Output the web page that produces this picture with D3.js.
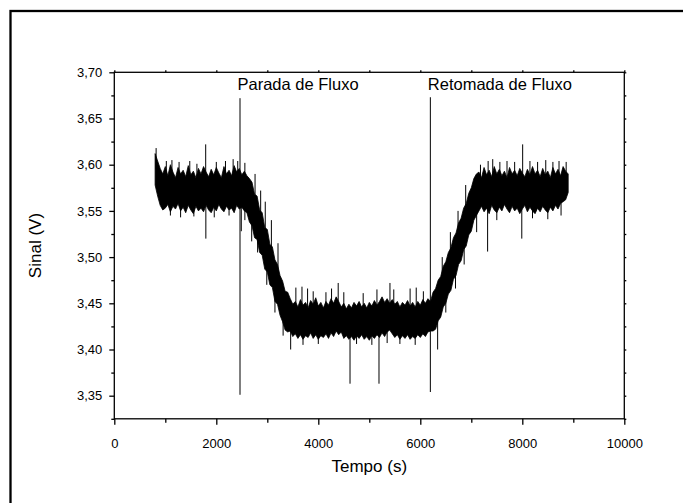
<!DOCTYPE html>
<html>
<head>
<meta charset="utf-8">
<script src="https://cdn.jsdelivr.net/npm/d3@7"></script>
<style>
html,body{margin:0;padding:0;background:#fff;}
svg{display:block;}
text{font-family:"Liberation Sans",Arial,Helvetica,sans-serif;fill:#000;}
</style>
</head>
<body>
<svg id="chart" width="683" height="503"></svg>
<script>
// ---- data ----
const xTicks = [0, 2000, 4000, 6000, 8000, 10000];
const xMinorTicks = [1000, 3000, 5000, 7000, 9000];
const yTicks = [3.35, 3.40, 3.45, 3.50, 3.55, 3.60, 3.65, 3.70];
const yMinorTicks = [3.325, 3.375, 3.425, 3.475, 3.525, 3.575, 3.625, 3.675];
const xLabel = "Tempo (s)";
const yLabel = "Sinal (V)";

// signal envelope sampled every 50 s starting at 800 s
const tStart = 800, tStep = 50;
const signalHigh = [
  // plateau 800-2600
  3.612,3.604,3.596,3.590,3.598,3.588,3.600,3.592,3.586,3.597,3.590,3.594,3.587,3.599,3.589,3.593,3.586,3.596,3.590,3.598,
  3.592,3.587,3.595,3.589,3.597,3.591,3.586,3.598,3.590,3.594,3.588,3.599,3.592,3.596,3.589,3.593,3.588,
  // ramp down 2650-3400
  3.585,3.581,3.568,3.566,3.551,3.548,3.532,3.530,3.514,3.511,3.497,3.492,3.480,3.474,3.463,3.462,
  // low plateau 3450-6200
  3.455,3.449,3.452,3.446,3.454,3.448,3.451,3.445,3.453,3.449,3.456,3.447,3.451,3.445,3.452,3.448,3.455,3.450,3.457,3.452,
  3.446,3.450,3.444,3.449,3.445,3.451,3.447,3.452,3.446,3.450,3.445,3.451,3.447,3.453,3.448,3.452,3.457,3.451,3.455,3.450,
  3.454,3.449,3.452,3.446,3.451,3.448,3.453,3.447,3.451,3.446,3.452,3.448,3.454,3.450,3.455,3.452,
  // ramp up 6250-7100
  3.462,3.466,3.475,3.479,3.490,3.495,3.505,3.510,3.521,3.526,3.537,3.542,3.553,3.558,3.569,3.575,3.585,3.590,
  // plateau 7150-8900
  3.592,3.586,3.597,3.589,3.594,3.587,3.598,3.590,3.595,3.588,3.593,3.586,3.597,3.590,3.594,3.588,3.596,3.591,3.587,3.595,
  3.589,3.598,3.590,3.594,3.587,3.596,3.589,3.593,3.586,3.597,3.590,3.595,3.588,3.598,3.593,3.590
];
const signalLow = [
  3.578,3.566,3.556,3.551,3.553,3.557,3.549,3.555,3.552,3.558,3.550,3.554,3.548,3.556,3.551,3.547,3.555,3.550,3.553,3.549,
  3.556,3.551,3.548,3.554,3.550,3.557,3.552,3.549,3.555,3.551,3.553,3.548,3.556,3.552,3.554,3.550,3.548,
  3.538,3.534,3.521,3.519,3.505,3.502,3.487,3.484,3.470,3.467,3.452,3.449,3.437,3.430,3.421,3.419,
  3.420,3.414,3.417,3.412,3.416,3.411,3.415,3.413,3.418,3.412,3.416,3.411,3.415,3.413,3.417,3.412,3.418,3.414,3.420,3.416,
  3.419,3.412,3.415,3.411,3.414,3.410,3.415,3.412,3.416,3.411,3.414,3.410,3.415,3.412,3.416,3.413,3.418,3.414,3.419,3.421,
  3.417,3.413,3.416,3.411,3.415,3.412,3.416,3.411,3.414,3.412,3.416,3.413,3.417,3.414,3.419,3.420,
  3.420,3.422,3.431,3.435,3.446,3.450,3.460,3.464,3.476,3.480,3.492,3.496,3.508,3.512,3.524,3.528,3.540,3.545,
  3.550,3.555,3.549,3.553,3.547,3.556,3.551,3.548,3.554,3.550,3.557,3.552,3.548,3.555,3.550,3.553,3.547,3.552,3.556,3.549,
  3.554,3.550,3.547,3.553,3.549,3.555,3.551,3.548,3.554,3.550,3.556,3.552,3.558,3.560,3.562,3.570
];
// isolated noise spikes [time, value]
const spikes = [
  [820,3.618],[1020,3.604],[1130,3.605],[1270,3.603],[1480,3.604],[1620,3.601],[1792,3.622],[2000,3.603],
  [2180,3.604],[2330,3.606],[2420,3.604],[2560,3.602],
  [1100,3.545],[1300,3.543],[1560,3.544],[1795,3.520],[1960,3.543],[2250,3.545],[2490,3.528],[2560,3.540],[2694,3.517],
  [2760,3.590],[2870,3.572],[2960,3.560],[3080,3.540],[3210,3.515],[2810,3.505],[2990,3.470],[3150,3.440],[3310,3.415],
  [3560,3.467],[3680,3.468],[3790,3.466],[3900,3.463],[4150,3.462],[4260,3.466],[4390,3.472],[4500,3.462],
  [4880,3.461],[5150,3.465],[5405,3.472],[5480,3.465],[5800,3.466],[5920,3.467],[6060,3.463],
  [3458,3.400],[3700,3.405],[4000,3.406],[4622,3.363],[4750,3.406],[5050,3.405],[5190,3.363],[5350,3.407],
  [5600,3.406],[5900,3.405],[6340,3.400],
  [6430,3.500],[6590,3.527],[6740,3.550],[6890,3.578],[6500,3.440],[6690,3.466],[6860,3.492],
  [7105,3.527],[7320,3.506],
  [7180,3.600],[7330,3.604],[7420,3.606],[7560,3.603],[7700,3.604],[7850,3.603],[8007,3.622],[8150,3.604],
  [8300,3.603],[8460,3.605],[8600,3.603],[8720,3.604],[8860,3.603],
  [7500,3.540],[7990,3.520],[8200,3.542],[8500,3.541],[8760,3.545]
];
// annotation markers: label, time, line top, line bottom
const markerLabels = ["Parada de Fluxo", "Retomada de Fluxo"];
const markerTimes = [2465, 6197];
const markerTops = [3.672, 3.673];
const markerBottoms = [3.351, 3.354];

// ---- drawing ----
const svg = d3.select("#chart");
const x = d3.scaleLinear().domain([0, 10000]).range([114.3, 624.3]);
const y = d3.scaleLinear().domain([3.325, 3.70]).range([418.8, 72.3]);
const loc = d3.formatLocale({decimal: ",", thousands: "", grouping: [3], currency: ["", ""]});
const fy = loc.format(".2f");

// outer frame (cut by the canvas at right/bottom)
svg.append("rect").attr("x", 10.5).attr("y", 11).attr("width", 700).attr("height", 520)
  .attr("fill", "none").attr("stroke", "#000").attr("stroke-width", 2.3);

// signal band
const band = signalHigh.map((h, i) => ({t: tStart + i * tStep, hi: h, lo: signalLow[i]}));
svg.append("path").datum(band)
  .attr("d", d3.area().x(d => x(d.t)).y0(d => y(d.lo)).y1(d => y(d.hi)))
  .attr("fill", "#000").attr("stroke", "#000").attr("stroke-width", 0.8);

svg.append("g").selectAll("line").data(spikes).join("line")
  .attr("x1", d => x(d[0])).attr("x2", d => x(d[0]))
  .attr("y1", d => {
    const i = Math.max(0, Math.min(band.length - 1, Math.round((d[0] - tStart) / tStep)));
    return y((band[i].hi + band[i].lo) / 2);
  })
  .attr("y2", d => y(d[1]))
  .attr("stroke", "#000").attr("stroke-width", 1);

// markers
const mk = svg.append("g");
markerTimes.forEach((t, i) => {
  mk.append("line").attr("x1", x(t)).attr("x2", x(t))
    .attr("y1", y(markerTops[i])).attr("y2", y(markerBottoms[i]))
    .attr("stroke", "#000").attr("stroke-width", 1);
  mk.append("text").attr("x", x(t) - 2.5).attr("y", 90)
    .attr("font-size", 16.5).text(markerLabels[i]);
});

// axes
const axW = 1.3;
function styleAxis(g) {
  g.select(".domain").remove();
  g.selectAll("line").attr("stroke", "#000").attr("stroke-width", axW);
}
const gx = svg.append("g").attr("transform", `translate(0,${y.range()[0]})`)
  .call(d3.axisBottom(x).tickValues(xTicks).tickSize(6).tickPadding(14).tickFormat(d3.format("d")));
gx.call(styleAxis); gx.selectAll("text").attr("font-size", 13);
svg.append("g").attr("transform", `translate(0,${y.range()[0]})`)
  .call(d3.axisBottom(x).tickValues(xMinorTicks).tickSize(4).tickFormat("")).call(styleAxis);
const gy = svg.append("g").attr("transform", `translate(${x.range()[0]},0)`)
  .call(d3.axisLeft(y).tickValues(yTicks).tickSize(5).tickPadding(7).tickFormat(fy));
gy.call(styleAxis); gy.selectAll("text").attr("font-size", 13);
svg.append("g").attr("transform", `translate(${x.range()[0]},0)`)
  .call(d3.axisLeft(y).tickValues(yMinorTicks).tickSize(3).tickFormat("")).call(styleAxis);
// top & right mirrored ticks
svg.append("g").attr("transform", `translate(0,${y.range()[1]})`)
  .call(d3.axisTop(x).tickValues(xTicks.concat(xMinorTicks)).tickSize(2).tickFormat("")).call(styleAxis);
svg.append("g").attr("transform", `translate(${x.range()[1]},0)`)
  .call(d3.axisRight(y).tickValues(yTicks.concat(yMinorTicks)).tickSize(2).tickFormat("")).call(styleAxis);

// frame
svg.append("rect").attr("x", x.range()[0]).attr("y", y.range()[1])
  .attr("width", x.range()[1] - x.range()[0]).attr("height", y.range()[0] - y.range()[1])
  .attr("fill", "none").attr("stroke", "#000").attr("stroke-width", axW);

// titles
svg.append("text").attr("x", (x.range()[0] + x.range()[1]) / 2).attr("y", 472)
  .attr("text-anchor", "middle").attr("font-size", 17).text(xLabel);
svg.append("text").attr("transform", `translate(41,${(y.range()[0] + y.range()[1]) / 2}) rotate(-90)`)
  .attr("text-anchor", "middle").attr("font-size", 17).text(yLabel);
</script>
</body>
</html>
